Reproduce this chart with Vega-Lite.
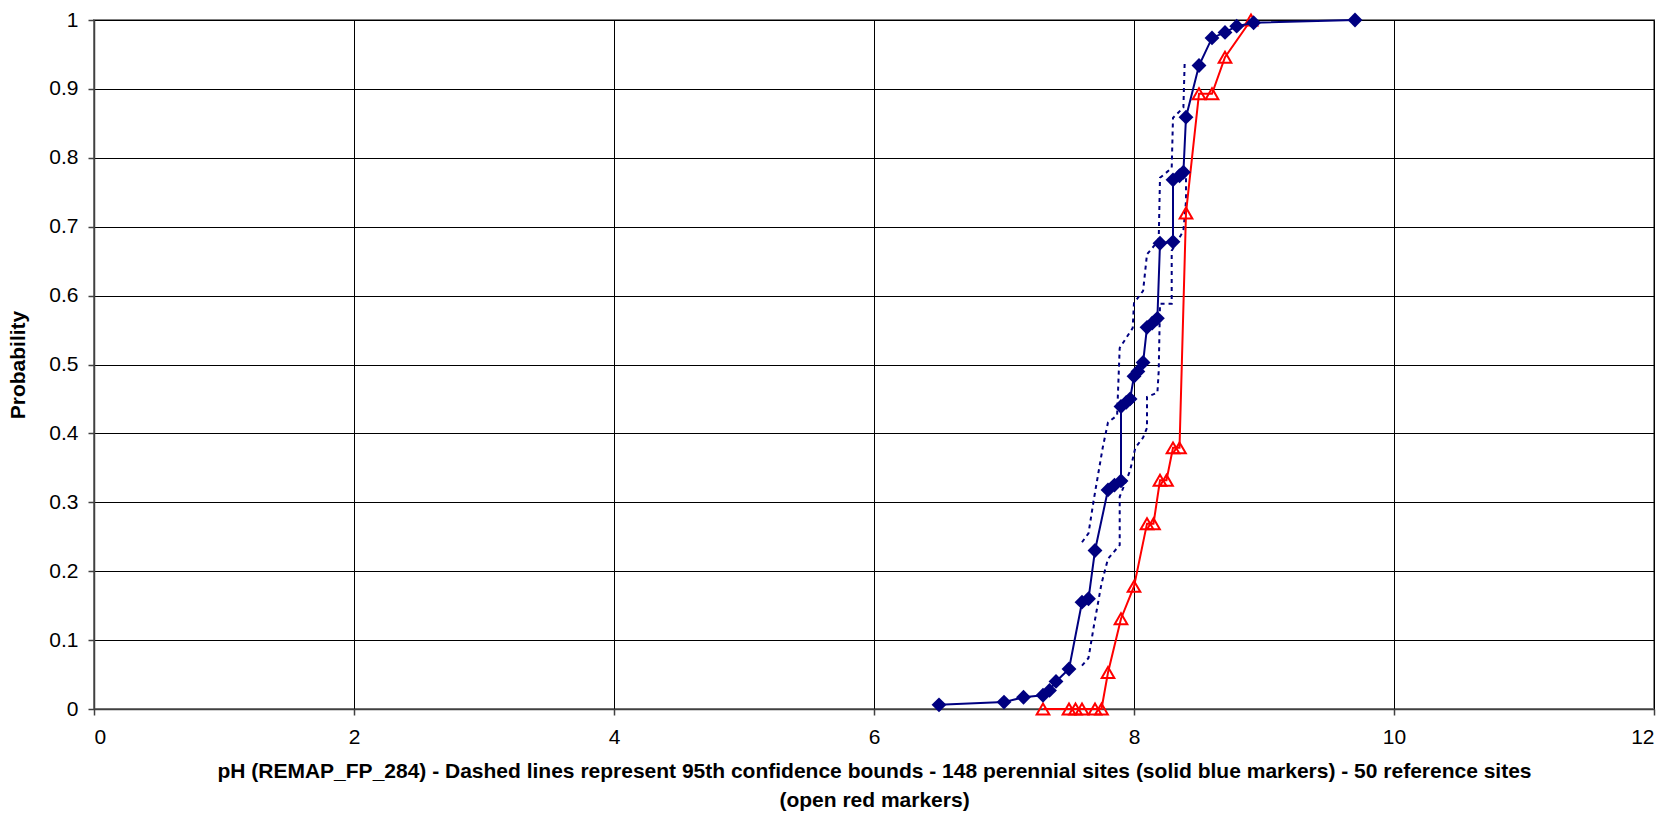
{
  "$schema": "https://vega.github.io/schema/vega-lite/v6.json",
  "width": 1560,
  "height": 689,
  "autosize": {"type": "none"},
  "padding": {"left": 94, "top": 20, "right": 17, "bottom": 110},
  "background": "white",
  "config": {
    "font": "Liberation Sans",
    "view": {"stroke": "#808080", "strokeWidth": 2},
    "axis": {
      "labelFont": "Liberation Sans",
      "labelFontSize": 21,
      "labelColor": "black",
      "titleFont": "Liberation Sans",
      "titleFontSize": 21,
      "titleFontWeight": "bold",
      "titleColor": "black",
      "gridColor": "black",
      "gridOpacity": 1,
      "gridWidth": 1,
      "domainColor": "#404040",
      "domainWidth": 1.5,
      "tickColor": "#404040",
      "tickSize": 6,
      "tickWidth": 1.5
    }
  },
  "datasets": {
    "blue": [
      {"i": 1, "x": 6.5, "y": 0.006},
      {"i": 2, "x": 7.0, "y": 0.010},
      {"i": 3, "x": 7.15, "y": 0.017},
      {"i": 4, "x": 7.3, "y": 0.020},
      {"i": 5, "x": 7.35, "y": 0.027},
      {"i": 6, "x": 7.4, "y": 0.040},
      {"i": 7, "x": 7.5, "y": 0.058},
      {"i": 8, "x": 7.6, "y": 0.155},
      {"i": 9, "x": 7.65, "y": 0.160},
      {"i": 10, "x": 7.7, "y": 0.230},
      {"i": 11, "x": 7.8, "y": 0.318},
      {"i": 12, "x": 7.85, "y": 0.325},
      {"i": 13, "x": 7.9, "y": 0.331},
      {"i": 14, "x": 7.9, "y": 0.439},
      {"i": 15, "x": 7.94, "y": 0.445},
      {"i": 16, "x": 7.97, "y": 0.450},
      {"i": 17, "x": 8.0, "y": 0.483},
      {"i": 18, "x": 8.03, "y": 0.490},
      {"i": 19, "x": 8.07, "y": 0.503},
      {"i": 20, "x": 8.1, "y": 0.554},
      {"i": 21, "x": 8.14, "y": 0.560},
      {"i": 22, "x": 8.18, "y": 0.567},
      {"i": 23, "x": 8.2, "y": 0.676},
      {"i": 24, "x": 8.3, "y": 0.678},
      {"i": 25, "x": 8.3, "y": 0.768},
      {"i": 26, "x": 8.35, "y": 0.774},
      {"i": 27, "x": 8.38, "y": 0.779},
      {"i": 28, "x": 8.4, "y": 0.859},
      {"i": 29, "x": 8.5, "y": 0.934},
      {"i": 30, "x": 8.6, "y": 0.974},
      {"i": 31, "x": 8.7, "y": 0.982},
      {"i": 32, "x": 8.79, "y": 0.991},
      {"i": 33, "x": 8.92, "y": 0.996},
      {"i": 34, "x": 9.7, "y": 1.0}
    ],
    "bounds": [
      {"b": "upper", "i": 1, "x": 7.6, "y": 0.242},
      {"b": "upper", "i": 2, "x": 7.65, "y": 0.255},
      {"b": "upper", "i": 3, "x": 7.69, "y": 0.303},
      {"b": "upper", "i": 4, "x": 7.76, "y": 0.380},
      {"b": "upper", "i": 5, "x": 7.8, "y": 0.416},
      {"b": "upper", "i": 6, "x": 7.87, "y": 0.426},
      {"b": "upper", "i": 7, "x": 7.89, "y": 0.524},
      {"b": "upper", "i": 8, "x": 7.99, "y": 0.553},
      {"b": "upper", "i": 9, "x": 8.0, "y": 0.589},
      {"b": "upper", "i": 10, "x": 8.07, "y": 0.607},
      {"b": "upper", "i": 11, "x": 8.1, "y": 0.660},
      {"b": "upper", "i": 12, "x": 8.19, "y": 0.680},
      {"b": "upper", "i": 13, "x": 8.2, "y": 0.771},
      {"b": "upper", "i": 14, "x": 8.29, "y": 0.785},
      {"b": "upper", "i": 15, "x": 8.3, "y": 0.858},
      {"b": "upper", "i": 16, "x": 8.38, "y": 0.873},
      {"b": "upper", "i": 17, "x": 8.39, "y": 0.940},
      {"b": "lower", "i": 1, "x": 7.6, "y": 0.063},
      {"b": "lower", "i": 2, "x": 7.65, "y": 0.074},
      {"b": "lower", "i": 3, "x": 7.69, "y": 0.119},
      {"b": "lower", "i": 4, "x": 7.75, "y": 0.182},
      {"b": "lower", "i": 5, "x": 7.8, "y": 0.218},
      {"b": "lower", "i": 6, "x": 7.89, "y": 0.238},
      {"b": "lower", "i": 7, "x": 7.89, "y": 0.308},
      {"b": "lower", "i": 8, "x": 7.97, "y": 0.346},
      {"b": "lower", "i": 9, "x": 8.01, "y": 0.379},
      {"b": "lower", "i": 10, "x": 8.07, "y": 0.394},
      {"b": "lower", "i": 11, "x": 8.1, "y": 0.408},
      {"b": "lower", "i": 12, "x": 8.1, "y": 0.453},
      {"b": "lower", "i": 13, "x": 8.18, "y": 0.459},
      {"b": "lower", "i": 14, "x": 8.19, "y": 0.490},
      {"b": "lower", "i": 15, "x": 8.2, "y": 0.588},
      {"b": "lower", "i": 16, "x": 8.29, "y": 0.588},
      {"b": "lower", "i": 17, "x": 8.29, "y": 0.665},
      {"b": "lower", "i": 18, "x": 8.38, "y": 0.694},
      {"b": "lower", "i": 19, "x": 8.4, "y": 0.737},
      {"b": "lower", "i": 20, "x": 8.4, "y": 0.775}
    ],
    "red": [
      {"i": 1, "x": 7.3, "y": 0.0},
      {"i": 2, "x": 7.5, "y": 0.0},
      {"i": 3, "x": 7.55, "y": 0.0},
      {"i": 4, "x": 7.6, "y": 0.0},
      {"i": 5, "x": 7.7, "y": 0.0},
      {"i": 6, "x": 7.75, "y": 0.0},
      {"i": 7, "x": 7.8, "y": 0.053},
      {"i": 8, "x": 7.9, "y": 0.131},
      {"i": 9, "x": 8.0, "y": 0.178},
      {"i": 10, "x": 8.1, "y": 0.269},
      {"i": 11, "x": 8.15, "y": 0.269},
      {"i": 12, "x": 8.2, "y": 0.332},
      {"i": 13, "x": 8.25, "y": 0.332},
      {"i": 14, "x": 8.3, "y": 0.379},
      {"i": 15, "x": 8.35, "y": 0.379},
      {"i": 16, "x": 8.4, "y": 0.720},
      {"i": 17, "x": 8.5, "y": 0.893},
      {"i": 18, "x": 8.6, "y": 0.893},
      {"i": 19, "x": 8.7, "y": 0.946},
      {"i": 20, "x": 8.9, "y": 1.0}
    ]
  },
  "encoding": {
    "x": {
      "field": "x", "type": "quantitative",
      "scale": {"domain": [0, 12], "nice": false, "zero": false},
      "axis": {
        "values": [0, 2, 4, 6, 8, 10, 12],
        "title": ["pH (REMAP_FP_284) - Dashed lines represent 95th confidence bounds - 148 perennial sites (solid blue markers) - 50 reference sites", "(open red markers)"],
        "titlePadding": 13,
        "titleLineHeight": 29,
        "labelPadding": 11,
        "grid": true,
        "format": "d"
      }
    },
    "y": {
      "field": "y", "type": "quantitative",
      "scale": {"domain": [0, 1], "nice": false},
      "axis": {
        "values": [0, 0.1, 0.2, 0.3, 0.4, 0.5, 0.6, 0.7, 0.8, 0.9, 1],
        "title": "Probability",
        "titlePadding": 20,
        "labelPadding": 10,
        "grid": true,
        "format": "~g"
      }
    },
    "order": {"field": "i", "type": "quantitative"}
  },
  "layer": [
    {
      "data": {"name": "bounds"},
      "mark": {"type": "line", "color": "#000080", "strokeWidth": 2, "strokeDash": [4, 4], "interpolate": "linear"},
      "encoding": {"detail": {"field": "b"}}
    },
    {
      "data": {"name": "red"},
      "mark": {"type": "line", "color": "#FF0000", "strokeWidth": 2}
    },
    {
      "data": {"name": "red"},
      "mark": {"type": "point", "shape": "triangle-up", "size": 160, "filled": false, "fill": "white", "fillOpacity": 0, "stroke": "#FF0000", "strokeWidth": 2, "opacity": 1}
    },
    {
      "data": {"name": "blue"},
      "mark": {"type": "line", "color": "#000080", "strokeWidth": 2}
    },
    {
      "data": {"name": "blue"},
      "mark": {"type": "point", "shape": "diamond", "size": 220, "filled": true, "color": "#000080", "opacity": 1}
    }
  ]
}
